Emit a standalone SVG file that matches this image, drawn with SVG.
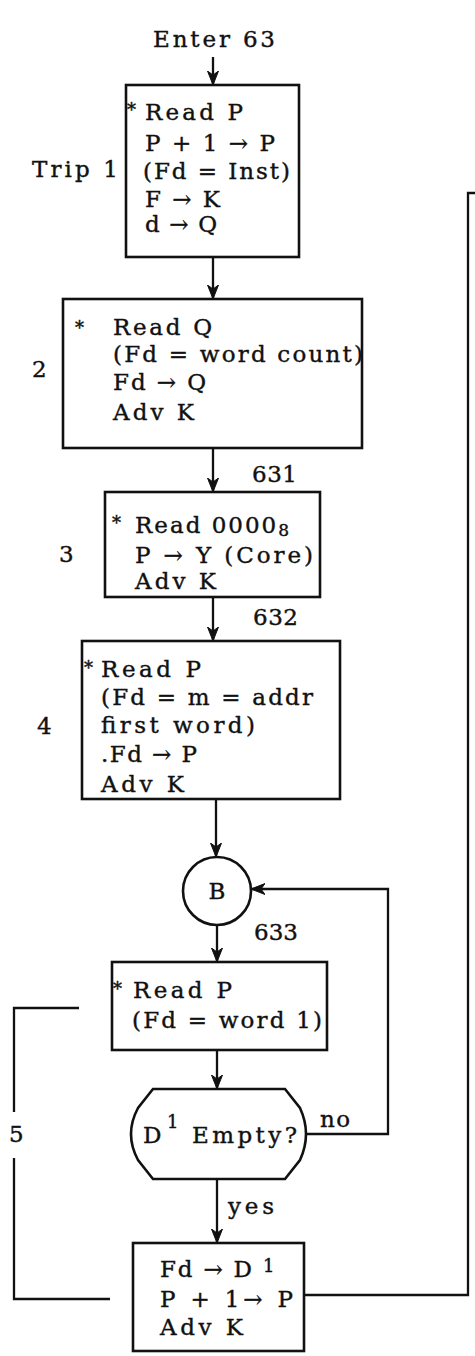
<svg xmlns="http://www.w3.org/2000/svg" width="475" height="1356" viewBox="0 0 475 1356">
<style>
text{font-family:"DejaVu Serif","Liberation Serif",serif;font-size:23px;fill:#111;stroke:#111;stroke-width:0.4}
.ast{font-size:18px}
.sup{font-size:18px}
.box{fill:#fff;stroke:#111;stroke-width:2.6}
.con{fill:none;stroke:#111;stroke-width:2.3}
</style>
<defs>
<marker id="ah" viewBox="0 0 14 12" refX="13" refY="6" markerWidth="14" markerHeight="12" markerUnits="userSpaceOnUse" orient="auto">
<path d="M0,0.5 L14,6 L0,11.5 L4,6 Z" fill="#111" stroke="#111" stroke-width="1"/>
</marker>
</defs>
<g id="connectors">
<path class="con" d="M213,57 V84" marker-end="url(#ah)"/>
<path class="con" d="M213,257 V298" marker-end="url(#ah)"/>
<path class="con" d="M213,448 V491" marker-end="url(#ah)"/>
<path class="con" d="M213,597 V640" marker-end="url(#ah)"/>
<path class="con" d="M216,799 V856" marker-end="url(#ah)"/>
<path class="con" d="M217,925 V961" marker-end="url(#ah)"/>
<path class="con" d="M217,1050 V1088" marker-end="url(#ah)"/>
<path class="con" d="M217,1179 V1242" marker-end="url(#ah)"/>
<path class="con" d="M307,1134 H388 V889 H252" marker-end="url(#ah)"/>
<path class="con" d="M304,1295 H468 V193 H475"/>
<path class="con" d="M79,1008 H14 V1112 M14,1158 V1299 H110"/>
</g>
<g id="enter"><text x="153" y="47" textLength="122" lengthAdjust="spacing">Enter 63</text></g>
<g id="trip1">
<rect class="box" x="126" y="85" width="173" height="172"/>
<text class="ast" x="127" y="116">*</text>
<text x="145" y="120" textLength="98" lengthAdjust="spacing">Read P</text>
<text x="145" y="151" textLength="130" lengthAdjust="spacing">P + 1 → P</text>
<text x="143" y="179" textLength="147" lengthAdjust="spacing">(Fd = Inst)</text>
<text x="145" y="207" textLength="75" lengthAdjust="spacing">F → K</text>
<text x="145" y="232" textLength="72" lengthAdjust="spacing">d → Q</text>
<text x="32" y="177" textLength="86" lengthAdjust="spacing">Trip 1</text>
</g>
<g id="trip2">
<rect class="box" x="63" y="299" width="299" height="149"/>
<text class="ast" x="75" y="334">*</text>
<text x="113" y="335" textLength="99" lengthAdjust="spacing">Read Q</text>
<text x="113" y="362" textLength="250" lengthAdjust="spacing">(Fd = word count)</text>
<text x="113" y="390" textLength="93" lengthAdjust="spacing">Fd → Q</text>
<text x="113" y="420" textLength="81" lengthAdjust="spacing">Adv K</text>
<text x="32" y="377">2</text>
</g>
<g id="label631"><text x="252" y="482" textLength="45" lengthAdjust="spacing">631</text></g>
<g id="trip3">
<rect class="box" x="105" y="492" width="215" height="105"/>
<text class="ast" x="112" y="529">*</text>
<text x="135" y="533" letter-spacing="2">Read 0000<tspan dy="3" font-size="17" letter-spacing="0">8</tspan></text>
<text x="135" y="563" textLength="178" lengthAdjust="spacing">P → Y (Core)</text>
<text x="135" y="589" textLength="81" lengthAdjust="spacing">Adv K</text>
<text x="59" y="562">3</text>
</g>
<g id="label632"><text x="253" y="625" textLength="45" lengthAdjust="spacing">632</text></g>
<g id="trip4">
<rect class="box" x="82" y="641" width="258" height="158"/>
<text class="ast" x="84" y="674">*</text>
<text x="101" y="677" textLength="100" lengthAdjust="spacing">Read P</text>
<text x="101" y="705" textLength="212" lengthAdjust="spacing">(Fd = m = addr</text>
<text x="101" y="733" textLength="154" lengthAdjust="spacing">first word)</text>
<text x="101" y="762" textLength="96" lengthAdjust="spacing">.Fd → P</text>
<text x="101" y="792" textLength="83" lengthAdjust="spacing">Adv K</text>
<text x="37" y="734">4</text>
</g>
<g id="nodeB">
<circle class="box" cx="217" cy="891" r="34"/>
<text x="217" y="899" text-anchor="middle">B</text>
</g>
<g id="label633"><text x="254" y="940" textLength="44" lengthAdjust="spacing">633</text></g>
<g id="trip5read">
<rect class="box" x="112" y="962" width="215" height="88"/>
<text class="ast" x="113" y="995">*</text>
<text x="133" y="998" textLength="99" lengthAdjust="spacing">Read P</text>
<text x="132" y="1028" textLength="190" lengthAdjust="spacing">(Fd = word 1)</text>
</g>
<g id="decision">
<path class="box" d="M153,1089 L285,1089 L300,1108 Q312,1134 300,1160 L285,1179 L153,1179 L138,1160 Q124,1134 138,1108 Z"/>
<text x="143" y="1143">D</text>
<text class="sup" x="167" y="1128">1</text>
<text x="192" y="1143" textLength="105" lengthAdjust="spacing">Empty?</text>
</g>
<g id="labels">
<text x="320" y="1127" textLength="30" lengthAdjust="spacing">no</text>
<text x="228" y="1214" textLength="46" lengthAdjust="spacing">yes</text>
<text x="9" y="1142">5</text>
</g>
<g id="trip5store">
<rect class="box" x="133" y="1243" width="171" height="108"/>
<text x="160" y="1277" textLength="92" lengthAdjust="spacing">Fd → D</text>
<text class="sup" x="263" y="1272">1</text>
<text x="160" y="1307" textLength="133" lengthAdjust="spacing">P + 1→ P</text>
<text x="160" y="1335" textLength="83" lengthAdjust="spacing">Adv K</text>
</g>
</svg>
